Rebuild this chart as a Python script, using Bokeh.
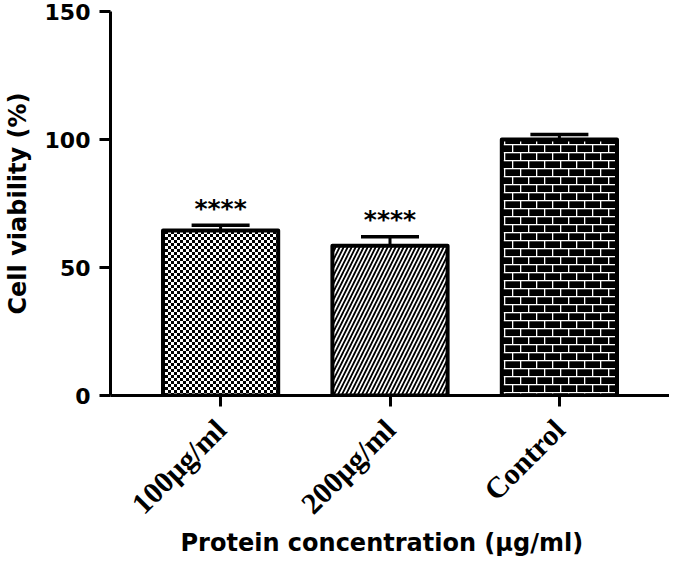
from bokeh.plotting import figure
from bokeh.models import (ColumnDataSource, FactorRange, Range1d, FixedTicker,
                          Whisker, TeeHead, CanvasTexture, Title)
from bokeh.core.properties import value
from bokeh.embed import file_html
from bokeh.resources import INLINE

# ---- data ----
categories = ["100μg/ml", "200μg/ml", "Control"]
viability = [64.5, 58.5, 100.0]
sem = [2.0, 3.5, 2.0]
significance = ["****", "****", ""]
y_ticks = [0, 50, 100, 150]

# ---- styles ----
patterns = ["checker", "right_diagonal_line", "brick"]
pattern_scale = [6, 8, 16]
pattern_weight = [1, 1.8, 1]

upper = [v + e for v, e in zip(viability, sem)]
src = ColumnDataSource(dict(x=categories, top=viability, upper=upper,
                            stars=significance, pat=patterns,
                            hs=pattern_scale, hw=pattern_weight))

checker = CanvasTexture(code="""
const n = 6, s = 3;
ctx.canvas.width = n; ctx.canvas.height = n;
ctx.fillStyle = '#ffffff';
ctx.fillRect(0, 0, n, n);
ctx.fillStyle = '#000000';
ctx.fillRect(0, 0, s, s);
ctx.fillRect(s, s, s, s);
""")
brick = CanvasTexture(code="""
const n = 16, h = 8;
ctx.canvas.width = n; ctx.canvas.height = n;
ctx.fillStyle = '#000000';
ctx.fillRect(0, 0, n, n);
ctx.fillStyle = '#ffffff';
ctx.fillRect(0, 0, n, 1.3);
ctx.fillRect(0, h, n, 1.3);
ctx.fillRect(0, 0, 1.3, h);
ctx.fillRect(h, h, 1.3, h);
""")

p = figure(width=669, height=558, output_backend="svg", toolbar_location=None,
           x_range=FactorRange(*categories, range_padding=0.15,
                               range_padding_units="absolute"),
           y_range=Range1d(0, 150),
           min_border_left=99, min_border_right=0, min_border_top=11,
           min_border_bottom=163)
p.outline_line_color = None
p.grid.visible = False
p.background_fill_color = "white"

p.vbar(x="x", top="top", bottom=0, width=0.68, source=src,
       fill_color="white", line_color="black", line_width=4, line_join="round",
       hatch_pattern="pat", hatch_color="black", hatch_scale="hs",
       hatch_weight="hw", hatch_extra={"checker": checker, "brick": brick})

p.add_layout(Whisker(base="x", lower="top", upper="upper", source=src,
                     dimension="height", line_width=3, line_color="black",
                     upper_head=TeeHead(size=58, line_width=3.5, line_color="black"),
                     lower_head=None))

p.text(x="x", y="upper", text="stars", source=src, text_align="center",
       text_baseline="middle", y_offset=-17, text_font=value("DejaVu Sans"),
       text_font_style="bold", text_font_size="25px", text_color="black")

# axes
for ax in (p.xaxis[0], p.yaxis[0]):
    ax.axis_line_width = 3
    ax.axis_line_color = "black"
    ax.major_tick_line_width = 3
    ax.major_tick_line_color = "black"
    ax.major_tick_out = 11
    ax.major_tick_in = 0
    ax.minor_tick_line_color = None
    ax.major_label_text_color = "black"

p.yaxis.ticker = FixedTicker(ticks=y_ticks)
p.yaxis.major_label_standoff = 9
p.yaxis.axis_label = "Cell viability (%)"
p.yaxis.axis_label_text_font = "DejaVu Sans"
p.yaxis.axis_label_text_font_style = "bold"
p.yaxis.axis_label_text_font_size = "24px"
p.yaxis.axis_label_text_color = "black"
p.yaxis.major_label_text_font = "DejaVu Sans"
p.yaxis.major_label_text_font_style = "bold"
p.yaxis.major_label_text_font_size = "22px"
p.yaxis.axis_label_standoff = 10

p.xaxis.major_label_orientation = 0.785398
p.xaxis.major_label_standoff = 18
p.xaxis.major_label_text_font = "Liberation Serif"
p.xaxis.major_label_text_font_style = "bold"
p.xaxis.major_label_text_font_size = "30px"

p.add_layout(Title(text="Protein concentration (μg/ml)", align="left", offset=70,
                   standoff=-15, text_font="DejaVu Sans", text_font_style="bold",
                   text_font_size="24px", text_color="black"), "below")

open("out.html", "w").write(file_html(p, INLINE))
